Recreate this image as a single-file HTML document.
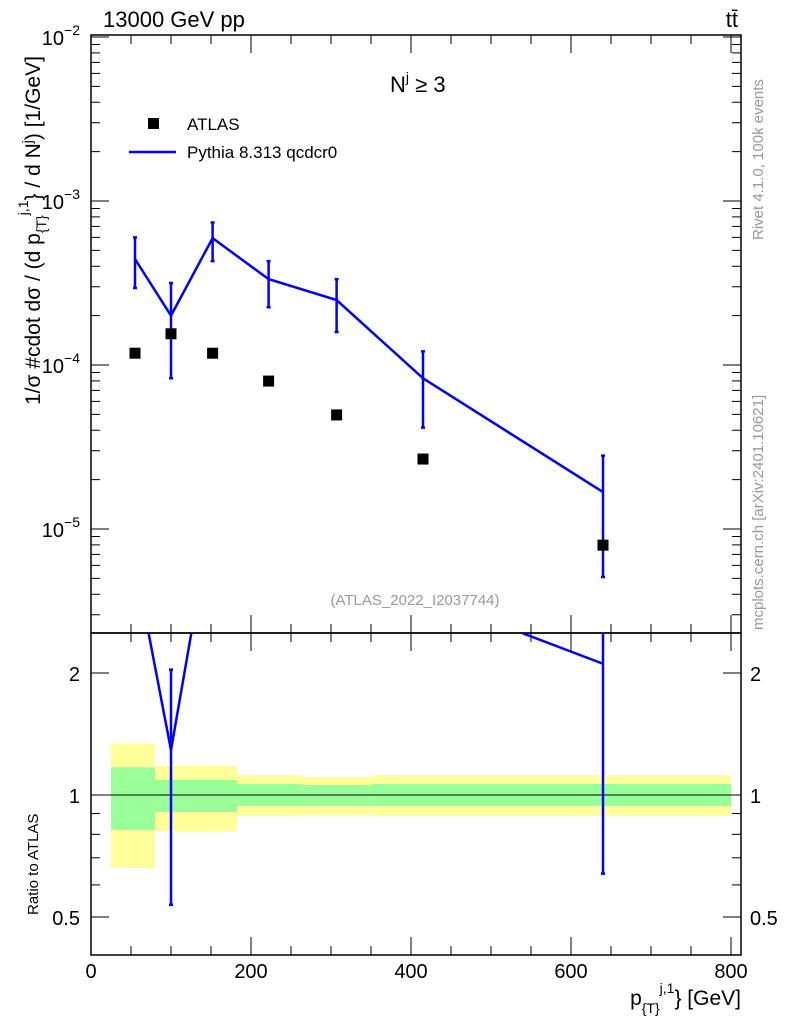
<!DOCTYPE html>
<html><head><meta charset="utf-8"><style>
body{margin:0;background:#fff;}
svg{font-family:"Liberation Sans",sans-serif;}
</style></head><body>
<svg id="c" width="786" height="1024" xmlns="http://www.w3.org/2000/svg"></svg>
<script>
const atlasX=[55,100,152,222,307,415,640];
const atlasY=[1.18e-4,1.55e-4,1.18e-4,7.98e-5,4.96e-5,2.67e-5,7.97e-6];
const pyX=[55,100,152,222,307,415,640];
const pyY=[4.43e-4,2.0e-4,5.94e-4,3.34e-4,2.49e-4,8.3e-5,1.68e-5];
const pyHi=[6.0e-4,3.16e-4,7.4e-4,4.3e-4,3.34e-4,1.21e-4,2.8e-5];
const pyLo=[2.95e-4,8.3e-5,4.3e-4,2.25e-4,1.59e-4,4.15e-5,5.1e-6];
const binEdges=[25,80,182.5,265,351,642,800];
const yelHi=[1.34,1.18,1.12,1.108,1.12,1.12];
const yelLo=[0.66,0.815,0.888,0.893,0.888,0.888];
const grnHi=[1.17,1.09,1.064,1.058,1.064,1.064];
const grnLo=[0.82,0.908,0.94,0.94,0.94,0.94];
const xTicks=[0,200,400,600,800];
const yMain=[-2,-3,-4,-5];
const rTicks=[0.5,1,2];

const S=document.getElementById('c');const NS='http://www.w3.org/2000/svg';
function el(t,a,txt){const e=document.createElementNS(NS,t);for(const k in a)e.setAttribute(k,a[k]);if(txt!==undefined)e.textContent=txt;S.appendChild(e);return e;}
const L=91,R=741,T=35,M=633,B=955;
const X=v=>91+v*0.8;
const Y=v=>37+(-2-Math.log10(v))*164;
const RY=v=>795-Math.log2(v)*122;
for(let i=0;i<binEdges.length-1;i++){
 const x0=Math.max(X(binEdges[i]),L),x1=Math.min(X(binEdges[i+1]),R);
 const y=el('rect',{x:x0,y:RY(yelHi[i]),width:x1-x0,height:RY(yelLo[i])-RY(yelHi[i]),fill:'#ffff99'});
 
 
 const g=el('rect',{x:x0,y:RY(grnHi[i]),width:x1-x0,height:RY(grnLo[i])-RY(grnHi[i]),fill:'#99ff99'});
 
 
}
el('line',{x1:L,x2:R,y1:RY(1),y2:RY(1),stroke:'#000','stroke-width':1});
el('rect',{x:L,y:T,width:R-L,height:M-T,fill:'none',stroke:'#000','stroke-width':1.5,});
el('rect',{x:L,y:M,width:R-L,height:B-M,fill:'none',stroke:'#000','stroke-width':1.5,});
for(let v=0;v<=800;v+=50){const maj=v%200==0;const len=maj?18:9;
 for(const [a,b] of [[T,1],[M,-1],[M,1],[B,-1]]){el('line',{x1:X(v),x2:X(v),y1:a,y2:a+b*len,stroke:'#000'});}}
xTicks.forEach(v=>{const t=el('text',{x:X(v),y:978,'font-size':20,'text-anchor':'middle'},v);
 
 });
for(let d=-6;d<=-2;d++)for(let m=1;m<10;m++){const v=m*Math.pow(10,d);const y=Y(v);if(y<T||y>M)continue;const len=m==1?18:9;
 el('line',{x1:L,x2:L+len,y1:y,y2:y,stroke:'#000'});el('line',{x1:R,x2:R-len,y1:y,y2:y,stroke:'#000'});}
yMain.forEach(d=>{const t=el('text',{x:64,y:Y(Math.pow(10,d))+8,'font-size':20,'text-anchor':'end'},'10');
 const s=document.createElementNS(NS,'tspan');s.setAttribute('dy','-10');s.setAttribute('font-size','14');s.textContent='−'+(-d);t.appendChild(s);
 t.setAttribute('x',80);
 
 });
[0.5,0.6,0.7,0.8,0.9,1,2].forEach(v=>{const y=RY(v);const len=(v==0.5||v==1||v==2)?18:9;
 el('line',{x1:L,x2:L+len,y1:y,y2:y,stroke:'#000'});el('line',{x1:R,x2:R-len,y1:y,y2:y,stroke:'#000'});});
rTicks.forEach(v=>{for(const [x,a] of [[80,'end'],[750,'start']]){const t=el('text',{x:x,y:RY(v)+8,'font-size':20,'text-anchor':a},v);
 
 }});
const defs=el('defs',{});
const cp=document.createElementNS(NS,'clipPath');cp.setAttribute('id','cm');const cr=document.createElementNS(NS,'rect');
cr.setAttribute('x',L);cr.setAttribute('y',T);cr.setAttribute('width',R-L);cr.setAttribute('height',M-T);cp.appendChild(cr);defs.appendChild(cp);
const cp2=document.createElementNS(NS,'clipPath');cp2.setAttribute('id','cr');const cr2=document.createElementNS(NS,'rect');
cr2.setAttribute('x',L);cr2.setAttribute('y',M);cr2.setAttribute('width',R-L);cr2.setAttribute('height',B-M);cp2.appendChild(cr2);defs.appendChild(cp2);
const pl=el('polyline',{points:pyX.map((x,i)=>X(x)+','+Y(pyY[i])).join(' '),fill:'none',stroke:'#0000ff','stroke-width':2.5,'clip-path':'url(#cm)'});


pyX.forEach((x,i)=>{const e=el('path',{d:`M${X(x)},${Y(pyHi[i])}V${Y(pyLo[i])}M${X(x)-2},${Y(pyHi[i])}h4M${X(x)-2},${Y(pyLo[i])}h4`,stroke:'#0000ff','stroke-width':2.5,fill:'none'});
 
 });
atlasX.forEach((x,i)=>{const e=el('rect',{x:X(x)-5.5,y:Y(atlasY[i])-5.5,width:11,height:11,fill:'#000'});
 
 });
const rl=el('polyline',{points:pyX.map((x,i)=>X(x)+','+RY(pyY[i]/atlasY[i])).join(' '),fill:'none',stroke:'#0000ff','stroke-width':2.5,'clip-path':'url(#cr)'});


pyX.forEach((x,i)=>{const r=pyY[i]/atlasY[i];if(r>2.3)return;const hi=pyHi[i]/atlasY[i],lo=pyLo[i]/atlasY[i];
 const e=el('path',{d:`M${X(x)},${RY(hi)}V${RY(lo)}M${X(x)-2},${RY(hi)}h4M${X(x)-2},${RY(lo)}h4`,stroke:'#0000ff','stroke-width':2.5,fill:'none','clip-path':'url(#cr)'});
 
 });
</script>
<svg style="position:absolute;left:0;top:0" width="786" height="1024" xmlns="http://www.w3.org/2000/svg" font-family="Liberation Sans, sans-serif">
<text x="103" y="27" font-size="22">13000 GeV pp</text>
<text x="738" y="27" font-size="22" text-anchor="end">tt̄</text>
<text x="390" y="92" font-size="22">N<tspan dy="-10" font-size="14">j</tspan><tspan dy="10"> ≥ 3</tspan></text>
<rect x="148" y="118" width="11" height="11" fill="#000"/>
<text x="187" y="130" font-size="17">ATLAS</text>
<line x1="129" x2="176" y1="152" y2="152" stroke="#0000ff" stroke-width="2.5"/>
<text x="187" y="158" font-size="17">Pythia 8.313 qcdcr0</text>
<text x="415" y="605" font-size="15" fill="#999" text-anchor="middle">(ATLAS_2022_I2037744)</text>
<text transform="translate(40,405) rotate(-90)" font-size="21">1/σ #cdot dσ / (d p<tspan dy="6" font-size="14">{T}</tspan><tspan dy="-18" font-size="14">j,1</tspan><tspan dy="12">} / d N</tspan><tspan dy="-8" font-size="14">j</tspan><tspan dy="8">) [1/GeV]</tspan></text>
<text transform="translate(38,915) rotate(-90)" font-size="15">Ratio to ATLAS</text>
<text x="741" y="1005" font-size="21" text-anchor="end">p<tspan dy="8" font-size="14">{T}</tspan><tspan dy="-20" font-size="14">j,1</tspan><tspan dy="12">} [GeV]</tspan></text>
<text transform="translate(763,240) rotate(-90)" font-size="15" fill="#999">Rivet 4.1.0,  100k events</text>
<text transform="translate(763,630) rotate(-90)" font-size="15" fill="#999">mcplots.cern.ch [arXiv:2401.10621]</text>
</svg>
</body></html>
